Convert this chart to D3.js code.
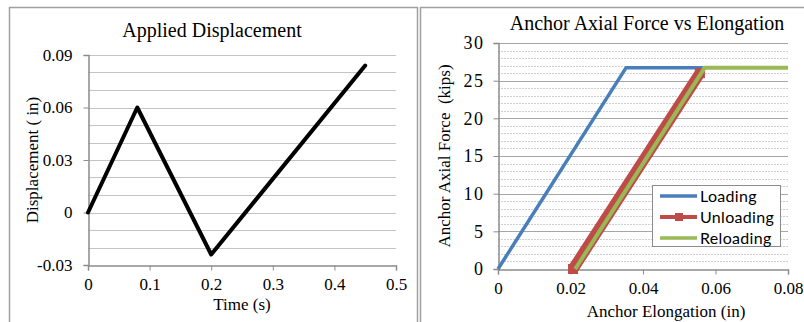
<!DOCTYPE html>
<html>
<head>
<meta charset="utf-8">
<script src="https://cdn.jsdelivr.net/npm/d3@7"></script>
<style>
  body { margin: 0; background: #fff; }
  svg text { font-family: "Liberation Serif", "Times New Roman", serif; fill: #000; }
  .legend text { font-family: Lato, "Open Sans", sans-serif; }
</style>
</head>
<body>
<div id="chart"></div>
<script>
// left chart: applied displacement
var dispTime = [0, 0.08, 0.2, 0.45];
var dispValue = [0, 0.06, -0.024, 0.084];
var dispXTicks = [0, 0.1, 0.2, 0.3, 0.4, 0.5];
var dispYTicks = [-0.03, 0, 0.03, 0.06, 0.09];

// right chart: anchor force vs elongation
var loadElong = [0, 0.0353, 0.0565];
var loadForce = [0, 26.7, 26.7];
var unloadElong = [0.0557, 0.0207];
var unloadForce = [26.0, 0];
var reloadElong = [0.0213, 0.057, 0.08];
var reloadForce = [0, 26.7, 26.7];
var forceXTicks = [0, 0.02, 0.04, 0.06, 0.08];
var forceYTicks = [0, 5, 10, 15, 20, 25, 30];

var seriesNames = ['Loading', 'Unloading', 'Reloading'];
var seriesColors = ['#4a7ebb', '#be4b48', '#98b954'];

var W = 804, H = 322;
var svg = d3.select('#chart').append('svg').attr('width', W).attr('height', H);

// panel borders
svg.append('path').attr('d', 'M9.5,330 V7.5 H417.5 V330')
    .attr('fill', 'none').attr('stroke', '#a0a0a0').attr('stroke-width', 1.5);
svg.append('path').attr('d', 'M420.5,330 V7.5 H810')
    .attr('fill', 'none').attr('stroke', '#a0a0a0').attr('stroke-width', 1.5);

function styleAxis(a, size) {
    a.attr('font-family', null).attr('font-size', null);
    a.select('.domain').attr('stroke', '#8c8c8c').attr('stroke-width', 1.5);
    a.selectAll('.tick line').attr('stroke', '#8c8c8c');
    a.selectAll('.tick text')
        .style('font-size', size + 'px')
        .style('font-family', '"Liberation Serif", "Times New Roman", serif')
        .style('fill', '#000');
}

// ---------- left chart ----------
var x1 = d3.scaleLinear().domain([0, 0.5]).range([88, 396]);
var y1 = d3.scaleLinear().domain([-0.03, 0.09]).range([265, 55]);

var g1 = svg.append('g');
g1.selectAll('line.grid').data(d3.range(-2, 10).map(function(d) { return d / 100; }))
    .enter().append('line').attr('class', 'grid')
    .attr('x1', x1(0)).attr('x2', x1(0.5))
    .attr('y1', function(d) { return Math.round(y1(d)) + 0.5; })
    .attr('y2', function(d) { return Math.round(y1(d)) + 0.5; })
    .attr('stroke', '#c4c4c4');

var ax1 = g1.append('g').attr('transform', 'translate(0,' + (Math.round(y1(-0.03)) + 0.5) + ')')
    .call(d3.axisBottom(x1).tickValues(dispXTicks).tickSize(5).tickPadding(7)
        .tickFormat(function(d) { return d === 0 ? '0' : d3.format('.1f')(d); }));
var ay1 = g1.append('g').attr('transform', 'translate(' + (Math.round(x1(0)) + 0.5) + ',0)')
    .call(d3.axisLeft(y1).tickValues(dispYTicks).tickSize(5).tickPadding(11)
        .tickFormat(function(d) { return Math.abs(d) < 1e-9 ? '0' : d3.format('.2f')(d).replace('\u2212', '-'); }));
styleAxis(ax1, 17);
styleAxis(ay1, 17);

g1.append('path')
    .datum(d3.range(dispTime.length))
    .attr('fill', 'none').attr('stroke', '#000').attr('stroke-width', 4)
    .attr('stroke-linejoin', 'round').attr('stroke-linecap', 'round')
    .attr('d', d3.line().x(function(i) { return x1(dispTime[i]); }).y(function(i) { return y1(dispValue[i]); }));

g1.append('text').attr('x', 212).attr('y', 37).attr('text-anchor', 'middle').style('font-size', '20px')
    .text('Applied Displacement');
g1.append('text').attr('x', 242).attr('y', 310).attr('text-anchor', 'middle').style('font-size', '17px')
    .text('Time (s)');
g1.append('text').attr('transform', 'translate(38,160) rotate(-90)').attr('text-anchor', 'middle').style('font-size', '17px')
    .text('Displacement ( in)');

// ---------- right chart ----------
var x2 = d3.scaleLinear().domain([0, 0.08]).range([498, 788]);
var y2 = d3.scaleLinear().domain([0, 30]).range([269, 43]);

var g2 = svg.append('g');
g2.selectAll('line.minor').data(d3.range(1, 30).filter(function(d) { return d % 5 !== 0; }))
    .enter().append('line').attr('class', 'minor')
    .attr('x1', x2(0)).attr('x2', x2(0.08))
    .attr('y1', function(d) { return Math.round(y2(d)) + 0.5; })
    .attr('y2', function(d) { return Math.round(y2(d)) + 0.5; })
    .attr('stroke', '#cfcfcf').attr('stroke-dasharray', '2,1');
g2.selectAll('line.major').data(forceYTicks.slice(1))
    .enter().append('line').attr('class', 'major')
    .attr('x1', x2(0)).attr('x2', x2(0.08))
    .attr('y1', function(d) { return Math.round(y2(d)) + 0.5; })
    .attr('y2', function(d) { return Math.round(y2(d)) + 0.5; })
    .attr('stroke', '#a6a6a6');

var ax2 = g2.append('g').attr('transform', 'translate(0,' + (Math.round(y2(0)) + 0.5) + ')')
    .call(d3.axisBottom(x2).tickValues(forceXTicks).tickSize(5).tickPadding(7)
        .tickFormat(function(d) { return d === 0 ? '0' : d3.format('.2f')(d); }));
var ay2 = g2.append('g').attr('transform', 'translate(' + (Math.round(x2(0)) + 0.5) + ',0)')
    .call(d3.axisLeft(y2).tickValues(forceYTicks).tickSize(5).tickPadding(9));
styleAxis(ax2, 17);
styleAxis(ay2, 18);
ay2.selectAll('.tick text').style('letter-spacing', '1.5px');

var line2 = d3.line().x(function(d) { return x2(d[0]); }).y(function(d) { return y2(d[1]); });
var loadPts = d3.zip(loadElong, loadForce);
var unloadPts = d3.zip(unloadElong, unloadForce);
var reloadPts = d3.zip(reloadElong, reloadForce);

g2.append('path').datum(loadPts).attr('fill', 'none').attr('stroke', seriesColors[0])
    .attr('stroke-width', 3.5).attr('stroke-linejoin', 'round').attr('d', line2);
g2.append('path').datum(unloadPts).attr('fill', 'none').attr('stroke', seriesColors[1])
    .attr('stroke-width', 11).attr('d', line2);
g2.selectAll('rect.mk').data(unloadPts).enter().append('rect').attr('class', 'mk')
    .attr('x', function(d) { return x2(d[0]) - 5; }).attr('y', function(d) { return y2(d[1]) - 5; })
    .attr('width', 10).attr('height', 10).attr('fill', seriesColors[1]);
g2.append('path').datum(reloadPts).attr('fill', 'none').attr('stroke', seriesColors[2])
    .attr('stroke-width', 4).attr('stroke-linejoin', 'round').attr('d', line2);

g2.append('text').attr('x', 647).attr('y', 30).attr('text-anchor', 'middle').style('font-size', '20px')
    .text('Anchor Axial Force vs Elongation');
g2.append('text').attr('x', 666).attr('y', 317).attr('text-anchor', 'middle').style('font-size', '17px')
    .text('Anchor Elongation (in)');
g2.append('text').attr('transform', 'translate(450,156) rotate(-90)').attr('text-anchor', 'middle').style('font-size', '17px')
    .style('white-space', 'pre').text('Anchor Axial Force  (kips)');

// legend
var leg = g2.append('g').attr('class', 'legend');
leg.append('rect').attr('x', 652.5).attr('y', 185.5).attr('width', 128).attr('height', 61)
    .attr('fill', '#fff').attr('stroke', '#8c8c8c');
var items = leg.selectAll('g.item').data(seriesNames).enter().append('g').attr('class', 'item')
    .attr('transform', function(d, i) { return 'translate(660,' + (196 + i * 21) + ')'; });
items.append('line').attr('x1', 0).attr('x2', 37).attr('y1', 0).attr('y2', 0)
    .attr('stroke', function(d, i) { return seriesColors[i]; }).attr('stroke-width', function(d, i) { return i === 1 ? 4 : 3.5; });
items.filter(function(d, i) { return i === 1; }).append('rect')
    .attr('x', 15).attr('y', -4).attr('width', 8).attr('height', 8).attr('fill', seriesColors[1]);
items.append('text').attr('x', 40).attr('y', 5.5).style('font-size', '16px').style('letter-spacing', '0.3px')
    .text(function(d) { return d; });
</script>
</body>
</html>
